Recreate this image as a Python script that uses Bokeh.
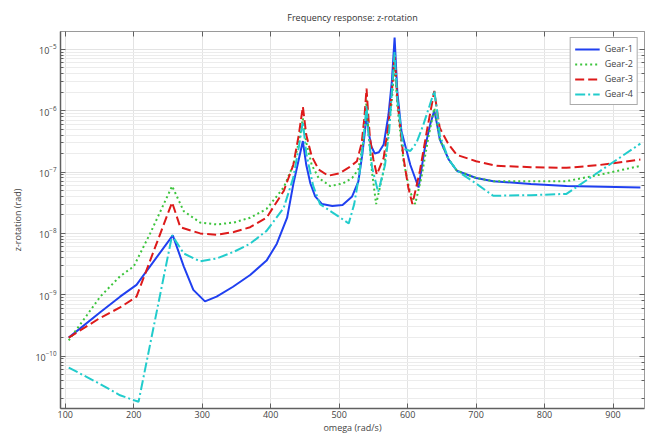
from bokeh.plotting import figure
from bokeh.models import (LinearAxis, LogAxis, LogTicker, SingleIntervalTicker,
                          Legend, LegendItem, Range1d, CustomJSTickFormatter, Title)
from bokeh.embed import file_html
from bokeh.resources import INLINE

# ---- data ----
omega_g1 = [105, 151, 180, 204, 257, 273, 287, 304, 321, 345, 370, 394, 409, 424, 433,
            441, 447, 452, 458, 465, 475, 490, 505, 519, 528, 534, 538, 540, 543, 547,
            552, 558, 565, 572, 577, 581, 585, 591, 604, 616, 625, 633, 639, 643, 647,
            660, 672, 700, 725, 780, 832, 940]
z_g1 = [2.0e-10, 5.2e-10, 9.3e-10, 1.45e-9, 9.3e-9, 2.9e-9, 1.2e-9, 7.8e-10, 9.3e-10,
        1.35e-9, 2.1e-9, 3.6e-9, 6.8e-9, 1.8e-8, 6.3e-8,
        1.6e-7, 3.2e-7, 1.3e-7, 6.5e-8, 4.0e-8, 3.0e-8, 2.8e-8, 2.9e-8, 4.0e-8, 7.0e-8,
        2.0e-7, 5.0e-7, 9.0e-7, 4.5e-7, 2.6e-7,
        2.0e-7, 2.1e-7, 2.8e-7, 8.5e-7, 3.0e-6, 1.55e-5, 2.0e-6, 4.6e-7, 1.3e-7, 5.6e-8,
        2.4e-7, 6.0e-7, 1.0e-6, 6.0e-7, 3.4e-7,
        1.6e-7, 1.05e-7, 8.0e-8, 7.1e-8, 6.4e-8, 5.9e-8, 5.6e-8]

omega_g2 = [105, 151, 180, 200, 224, 256, 273, 297, 321, 346, 370, 394, 419, 433, 441,
            447, 452, 460, 470, 487, 505, 519, 528, 534, 538, 540, 543, 548, 554, 565,
            572, 577, 581, 585, 594, 603, 611, 620, 630, 639, 643, 647, 660, 672, 700,
            725, 780, 832, 880, 940]
z_g2 = [1.8e-10, 9.3e-10, 2.0e-9, 2.9e-9, 1.0e-8, 5.9e-8, 2.3e-8, 1.5e-8, 1.4e-8, 1.5e-8,
        1.8e-8, 2.5e-8, 5.6e-8, 1.3e-7, 3.0e-7,
        7.5e-7, 3.0e-7, 1.3e-7, 8.0e-8, 5.9e-8, 6.5e-8, 8.0e-8, 1.1e-7, 2.5e-7, 6.0e-7,
        1.5e-6, 4.0e-7, 1.0e-7, 3.0e-8, 1.05e-7,
        4.6e-7, 1.5e-6, 6.0e-6, 1.2e-6, 1.5e-7, 5.0e-8, 3.0e-8, 8.0e-8, 3.5e-7, 1.1e-6,
        6.0e-7, 3.4e-7, 1.6e-7, 1.05e-7, 8.0e-8,
        7.1e-8, 7.1e-8, 7.1e-8, 9.0e-8, 1.26e-7]

omega_g3 = [105, 151, 180, 204, 256, 268, 297, 321, 346, 370, 394, 419, 433, 441, 447,
            452, 460, 470, 484, 500, 515, 526, 533, 537, 540, 543, 545, 550, 555, 565,
            572, 577, 581, 585, 594, 601, 607, 618, 628, 635, 639, 643, 647, 660, 672,
            700, 730, 780, 832, 880, 940]
z_g3 = [2.0e-10, 4.2e-10, 6.2e-10, 9.3e-10, 3.2e-8, 1.26e-8, 1.0e-8, 9.5e-9, 1.05e-8,
        1.26e-8, 1.8e-8, 4.9e-8, 1.3e-7, 4.0e-7, 1.16e-6,
        4.0e-7, 1.8e-7, 1.1e-7, 8.7e-8, 9.5e-8, 1.2e-7, 1.5e-7, 3.0e-7, 8.0e-7, 2.3e-6,
        7.0e-7, 3.6e-7, 1.6e-7, 9.1e-8, 1.7e-7,
        5.9e-7, 2.0e-6, 8.0e-6, 1.5e-6, 1.7e-7, 5.6e-8, 3.0e-8, 1.05e-7, 4.6e-7, 1.2e-6,
        2.1e-6, 1.0e-6, 5.2e-7, 2.8e-7, 1.9e-7,
        1.5e-7, 1.26e-7, 1.2e-7, 1.17e-7, 1.3e-7, 1.6e-7]

omega_g4 = [105, 151, 180, 207, 256, 273, 297, 321, 346, 370, 394, 419, 433, 441, 447,
            452, 462, 472, 490, 505, 514, 522, 530, 535, 540, 543, 548, 557, 567, 573,
            577, 581, 585, 594, 604, 613, 623, 632, 639, 643, 647, 660, 672, 700, 725,
            780, 832, 940]
z_g4 = [6.5e-11, 3.5e-11, 2.3e-11, 1.8e-11, 9.3e-9, 4.7e-9, 3.5e-9, 3.9e-9, 5.0e-9,
        6.8e-9, 1.1e-8, 2.6e-8, 8.1e-8, 2.5e-7, 6.6e-7,
        2.0e-7, 6.0e-8, 3.0e-8, 2.2e-8, 1.7e-8, 1.45e-8, 3.0e-8, 1.0e-7, 3.0e-7, 1.2e-6,
        4.0e-7, 1.2e-7, 4.7e-8, 1.3e-7, 4.6e-7,
        2.0e-6, 9.0e-6, 1.5e-6, 2.4e-7, 2.2e-7, 3.0e-7, 5.9e-7, 1.2e-6, 2.1e-6, 1.0e-6,
        4.0e-7, 1.6e-7, 1.05e-7, 6.5e-8, 4.1e-8,
        4.2e-8, 4.4e-8, 2.9e-7]

series_names = ["Gear-1", "Gear-2", "Gear-3", "Gear-4"]
x_ticks_interval = 100
title_text = "Frequency response: z-rotation"
x_label = "omega (rad/s)"
y_label = "z-rotation (rad)"
x_lo, x_hi = 93, 946

FONT = "Open Sans"
TXT = "#444444"

p = figure(width=652, height=436, y_axis_type="log",
           x_range=Range1d(x_lo, x_hi), y_range=Range1d(1.4e-11, 1.95e-5),
           output_backend="svg", toolbar_location=None,
           min_border_left=60, min_border_right=8, min_border_top=29, min_border_bottom=8,
           background_fill_color="white", border_fill_color="white")
p.outline_line_color = "#9a9a9a"
p.outline_line_width = 1

# grids
p.xgrid.ticker = SingleIntervalTicker(interval=x_ticks_interval)
p.xgrid.grid_line_color = "#e3e3e3"
p.ygrid.grid_line_color = "#e3e3e3"
p.ygrid.minor_grid_line_color = "#ececec"

# axes
xa = p.xaxis[0]
xa.ticker = SingleIntervalTicker(interval=x_ticks_interval, num_minor_ticks=0)
xa.axis_label = x_label
ya = p.yaxis[0]
ya.axis_label = y_label
for ax in (xa, ya):
    ax.axis_line_color = "#606060"
    ax.axis_line_width = 1.5
    ax.major_tick_in = 5
    ax.major_tick_out = 0
    ax.minor_tick_in = 3
    ax.minor_tick_out = 0
    ax.major_tick_line_color = "#606060"
    ax.minor_tick_line_color = "#606060"
    ax.major_label_text_font = FONT
    ax.major_label_text_font_size = "9px"
    ax.major_label_text_color = TXT
    ax.axis_label_text_font = FONT
    ax.axis_label_text_font_size = "9px"
    ax.axis_label_text_font_style = "normal"
    ax.axis_label_text_color = TXT
xa.minor_tick_line_color = None
xa.major_label_standoff = 2
xa.axis_label_standoff = 0
ya.major_label_standoff = 4
ya.axis_label_standoff = 8

blank = CustomJSTickFormatter(code="return ''")
top = LinearAxis(ticker=SingleIntervalTicker(interval=x_ticks_interval, num_minor_ticks=0),
                 formatter=blank, major_label_standoff=0, axis_label_standoff=0,
                 major_label_text_font_size="1px",
                 major_tick_in=5, major_tick_out=0, minor_tick_line_color=None,
                 axis_line_color="#9a9a9a", major_tick_line_color="#606060")
p.add_layout(top, "above")
right = LogAxis(ticker=LogTicker(), formatter=blank, major_label_standoff=0,
                axis_label_standoff=0, major_label_text_font_size="1px",
                major_tick_in=5, major_tick_out=0, minor_tick_in=3, minor_tick_out=0,
                axis_line_color="#9a9a9a", major_tick_line_color="#606060",
                minor_tick_line_color="#606060")
p.add_layout(right, "right")

title = Title(text=title_text, align="center", text_font=FONT, text_font_size="9px",
              text_font_style="normal", text_color="#333333", standoff=16)
p.add_layout(title, "above")

# lines
r1 = p.line(omega_g1, z_g1, line_color="#2040f0", line_width=2)
r2 = p.line(omega_g2, z_g2, line_color="#3cc43c", line_width=2, line_dash="2 3")
r3 = p.line(omega_g3, z_g3, line_color="#dd1a1a", line_width=2, line_dash="9 4")
r4 = p.line(omega_g4, z_g4, line_color="#22cccc", line_width=2, line_dash="10 3 2 3")

legend = Legend(items=[LegendItem(label=n, renderers=[r]) for n, r in
                       zip(series_names, [r1, r2, r3, r4])],
                location="top_right", margin=6, padding=4, spacing=2,
                glyph_width=25, glyph_height=12, label_height=12, label_standoff=5,
                label_text_font=FONT, label_text_font_size="9px", label_text_color=TXT,
                border_line_color="#555555", border_line_width=1.5,
                background_fill_color="white", background_fill_alpha=1)
p.add_layout(legend)

open("out.html", "w").write(file_html(p, INLINE))
